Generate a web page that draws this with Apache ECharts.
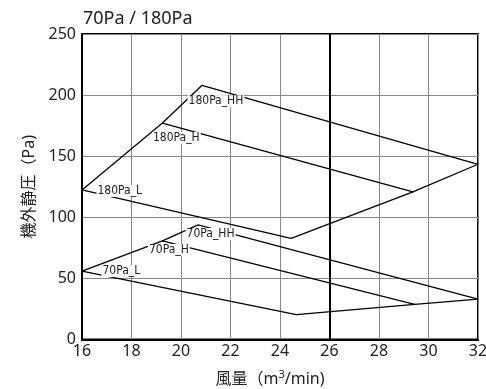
<!DOCTYPE html>
<html>
<head>
<meta charset="utf-8">
<script src="https://cdn.jsdelivr.net/npm/echarts@6/dist/echarts.min.js"></script>
<style>html,body{margin:0;padding:0;background:#fff}#c{width:486px;height:389px}</style>
</head>
<body>
<div id="c"></div>
<script>
// Fan curves: airflow (m3/min) and static pressure (Pa)
const flow180HH = [20.85, 32];     const pres180HH = [208, 143.4];
const flow180H  = [19.25, 29.37];  const pres180H  = [177.1, 120.8];
const flow180L  = [16, 24.45];     const pres180L  = [122.4, 82.8];
const flow70HH  = [20.69, 32];     const pres70HH  = [93.8, 33.0];
const flow70H   = [19.25, 29.44];  const pres70H   = [80.7, 28.8];
const flow70L   = [16, 24.66];     const pres70L   = [56.0, 20.3];

const curveNames = ['180Pa_HH', '180Pa_H', '180Pa_L', '70Pa_HH', '70Pa_H', '70Pa_L'];
const xTicks = [16, 18, 20, 22, 24, 26, 28, 30, 32];
const yTicks = [0, 50, 100, 150, 200, 250];
const dividerFlow = 26;
const labelOffsets = [[-15, 16], [-11, 15], [14, 1], [-13, 9], [-15, 9], [19, 0]];

const curves = [
  [flow180HH, pres180HH], [flow180H, pres180H], [flow180L, pres180L],
  [flow70HH, pres70HH], [flow70H, pres70H], [flow70L, pres70L]
];

function pts(c) { return c[0].map((x, i) => [x, c[1][i]]); }

const lineStyle = { color: '#000', width: 1.3 };
const series = [];
curves.forEach((c, k) => {
  const p = pts(c);
  series.push({
    type: 'line', name: curveNames[k], symbol: 'circle', symbolSize: 1,
    itemStyle: { color: '#000' }, lineStyle: lineStyle, silent: true, animation: false,
    data: p.map((v, i) => i === 0 ? {
      value: v,
      label: {
        show: true, formatter: curveNames[k], position: 'right', distance: 0,
        offset: labelOffsets[k], fontFamily: '"Liberation Sans Narrow", "DejaVu Sans Condensed", sans-serif',
        fontSize: 12, color: '#222', backgroundColor: '#fff', padding: [0, 1]
      }
    } : { value: v })
  });
});
// boundary lines connecting curve ends
function boundary(a, b, c, idx) {
  return [[a[0][idx], a[1][idx]], [b[0][idx], b[1][idx]], [c[0][idx], c[1][idx]]];
}
const bounds = [
  boundary([flow180L, pres180L], [flow180H, pres180H], [flow180HH, pres180HH], 0),
  boundary([flow180L, pres180L], [flow180H, pres180H], [flow180HH, pres180HH], 1),
  boundary([flow70L, pres70L], [flow70H, pres70H], [flow70HH, pres70HH], 0),
  boundary([flow70L, pres70L], [flow70H, pres70H], [flow70HH, pres70HH], 1)
];
bounds.forEach(b => series.push({
  type: 'line', symbol: 'none', lineStyle: lineStyle, silent: true, animation: false, data: b
}));
series.push({
  type: 'line', data: [], silent: true,
  markLine: { symbol: 'none', silent: true, animation: false, label: { show: false },
    lineStyle: { color: '#000', width: 2, type: 'solid' }, data: [{ xAxis: dividerFlow }] }
});

const font = '"Noto Sans", "Noto Sans CJK JP", sans-serif';
const chart = echarts.init(document.getElementById('c'));
chart.setOption({
  animation: false,
  title: { text: '70Pa / 180Pa', left: 78, top: 5,
    textStyle: { fontFamily: font, fontSize: 18, fontWeight: 'normal', color: '#222' } },
  grid: { left: 82, right: 8, top: 34, bottom: 49.5, show: true, borderColor: '#000', borderWidth: 2,
    outerBoundsMode: 'none', containLabel: false },
  xAxis: {
    type: 'value', min: xTicks[0], max: xTicks[xTicks.length - 1], interval: 2,
    axisLine: { lineStyle: { color: '#000', width: 2 } }, axisTick: { show: false },
    axisLabel: { fontFamily: font, fontSize: 16, color: '#222', margin: 4 },
    splitLine: { lineStyle: { color: '#888', width: 1 } },
    name: '{a|風量（m}{s|3}{a|/min)}', nameLocation: 'middle', nameGap: 30,
    nameTextStyle: { padding: [0, 20, 0, 0], rich: {
      a: { fontFamily: font, fontSize: 16, color: '#222' },
      s: { fontFamily: font, fontSize: 11, color: '#222', padding: [0, 0, 8, 0] } } }
  },
  yAxis: {
    type: 'value', min: yTicks[0], max: yTicks[yTicks.length - 1], interval: 50,
    axisLine: { lineStyle: { color: '#000', width: 2 } }, axisTick: { show: false },
    axisLabel: { fontFamily: font, fontSize: 16, color: '#222', margin: 6 },
    splitLine: { lineStyle: { color: '#888', width: 1 } },
    name: '機外静圧（Pa)', nameLocation: 'middle', nameGap: 43,
    nameTextStyle: { fontFamily: font, fontSize: 16, color: '#222' }
  },
  series: series
});
</script>
</body>
</html>
